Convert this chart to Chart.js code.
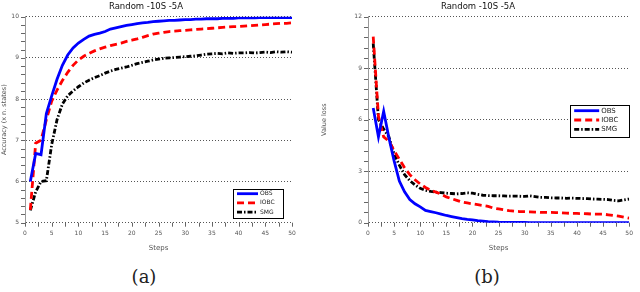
<!DOCTYPE html>
<html>
<head>
<meta charset="utf-8">
<script src="https://cdn.jsdelivr.net/npm/chart.js@4.4.1/dist/chart.umd.min.js"></script>
<style>
body{margin:0;background:#fff;width:640px;height:292px;position:relative;overflow:hidden}
.panel{position:absolute;top:0}
.cap{position:absolute;top:266px;width:60px;text-align:center;font-family:"DejaVu Serif","Liberation Serif",serif;font-size:18px;line-height:22px;color:#222}
</style>
</head>
<body>
<div class="panel" style="left:0"><canvas id="accChart" width="320" height="252"></canvas></div>
<div class="panel" style="left:320px"><canvas id="lossChart" width="320" height="252"></canvas></div>
<div class="cap" style="left:114px">(a)</div>
<div class="cap" style="left:457px">(b)</div>
<script>
const steps = [1,2,3,4,5,6,7,8,9,10,11,12,13,14,15,16,17,18,19,20,21,22,23,24,25,
  26,27,28,29,30,31,32,33,34,35,36,37,38,39,40,41,42,43,44,45,46,47,48,49,50];

const seriesNames = ["OBS", "IOBC", "SMG"];

// (a) accuracy
const accObs = [6.0,6.68,6.65,7.65,8.08,8.48,8.82,9.07,9.24,9.36,9.45,9.53,9.57,9.60,9.64,9.70,9.73,9.76,9.79,9.81,
  9.83,9.85,9.86,9.88,9.89,9.90,9.91,9.91,9.92,9.93,9.93,9.94,9.94,9.95,9.95,9.95,9.96,9.96,9.96,9.97,
  9.97,9.97,9.97,9.98,9.98,9.98,9.98,9.98,9.98,9.98];
const accIobc = [5.31,6.93,7.0,7.5,7.95,8.22,8.45,8.65,8.82,8.95,9.04,9.11,9.17,9.22,9.26,9.30,9.33,9.36,9.40,9.43,
  9.46,9.50,9.54,9.58,9.60,9.62,9.64,9.65,9.66,9.67,9.68,9.69,9.70,9.71,9.72,9.73,9.74,9.75,9.76,9.76,
  9.77,9.78,9.79,9.80,9.81,9.82,9.83,9.84,9.84,9.85];
const accSmg = [5.3,5.75,6.0,6.02,6.9,7.5,7.88,8.08,8.2,8.3,8.39,8.46,8.52,8.57,8.63,8.68,8.72,8.75,8.78,8.82,
  8.86,8.89,8.92,8.95,8.97,8.99,9.0,9.01,9.02,9.03,9.04,9.05,9.07,9.09,9.10,9.11,9.10,9.12,9.11,9.12,
  9.12,9.13,9.12,9.13,9.14,9.13,9.15,9.14,9.15,9.14];

// (b) value loss
const lossObs = [6.68,5.0,6.49,4.95,3.6,2.43,1.8,1.35,1.1,0.92,0.72,0.65,0.58,0.5,0.42,0.36,0.3,0.24,0.19,0.16,
  0.12,0.09,0.06,0.05,0.03,0.02,0.02,0.02,0.02,0.02,0.01,0.01,0.01,0.01,0.01,0.01,0.01,0.01,0.01,0.01,
  0,0,0,0,0,0,0,0,0,0];
const lossIobc = [10.84,6.2,5.0,4.75,4.2,3.7,3.2,2.8,2.5,2.25,2.05,1.9,1.78,1.66,1.5,1.4,1.3,1.2,1.15,1.1,
  1.05,1.0,0.95,0.85,0.8,0.75,0.7,0.67,0.65,0.64,0.63,0.62,0.6,0.6,0.6,0.59,0.58,0.56,0.54,0.54,
  0.53,0.52,0.5,0.5,0.5,0.46,0.42,0.38,0.32,0.26];
const lossSmg = [10.45,6.0,5.45,5.0,4.0,3.35,2.8,2.45,2.2,2.0,1.88,1.82,1.78,1.75,1.72,1.7,1.68,1.7,1.74,1.72,
  1.65,1.6,1.58,1.57,1.57,1.56,1.55,1.55,1.54,1.53,1.56,1.52,1.48,1.47,1.45,1.44,1.44,1.42,1.43,1.42,
  1.41,1.4,1.38,1.37,1.36,1.35,1.3,1.27,1.33,1.38];

const lineStyles = [
  {borderColor:"#0000ff", borderDash:[]},
  {borderColor:"#ff0000", borderDash:[7,4]},
  {borderColor:"#000000", borderDash:[5,2,1.5,2]}
];

// minor tick marks + boxed legend
const axisExtras = {
  id: "axisExtras",
  afterDraw(chart, args, opts){
    const ctx = chart.ctx;
    const xs = chart.scales.x, ys = chart.scales.y;
    const area = chart.chartArea;
    ctx.save();
    ctx.strokeStyle = "#666";
    ctx.lineWidth = 1;
    ctx.beginPath();
    for(let v = ys.min; v <= ys.max + 1e-6; v += opts.yMinor){
      const py = Math.round(ys.getPixelForValue(v)) + 0.5;
      ctx.moveTo(area.left - 4, py);
      ctx.lineTo(area.left, py);
    }
    for(let v = xs.min; v <= xs.max + 1e-6; v += 2.5){
      const px = Math.round(xs.getPixelForValue(v)) + 0.5;
      ctx.moveTo(px, area.bottom);
      ctx.lineTo(px, area.bottom + 4);
    }
    ctx.stroke();

    // legend
    const lg = opts.legend;
    const bx = area.right - lg.right - lg.w;
    const by = area.top + lg.top;
    ctx.fillStyle = "#fff";
    ctx.fillRect(bx, by, lg.w, lg.h);
    ctx.strokeStyle = "#000";
    ctx.lineWidth = 1;
    ctx.strokeRect(Math.round(bx) + 0.5, Math.round(by) + 0.5, lg.w, lg.h);
    ctx.font = lg.fontSize + "px 'DejaVu Sans'";
    ctx.textBaseline = "middle";
    ctx.fillStyle = "#222";
    chart.data.datasets.forEach((ds, i) => {
      const ry = by + lg.rowTop + i * lg.rowGap;
      ctx.save();
      ctx.strokeStyle = ds.borderColor;
      ctx.lineWidth = 2.8;
      ctx.setLineDash(ds.borderDash);
      ctx.beginPath();
      ctx.moveTo(bx + lg.lineX, ry);
      ctx.lineTo(bx + lg.lineX + lg.lineW, ry);
      ctx.stroke();
      ctx.restore();
      ctx.fillText(ds.label, bx + lg.lineX + lg.lineW + 2, ry);
    });
    ctx.restore();
  }
};

function makeChart(canvasId, series, yMin, yMax, yStep, yMinor, yLabel, yWidth, padRight, legend){
  return new Chart(document.getElementById(canvasId), {
    type: "line",
    data: {
      datasets: series.map((vals, i) => ({
        label: seriesNames[i],
        data: steps.map((s, k) => ({x: s, y: vals[k]})),
        borderColor: lineStyles[i].borderColor,
        borderDash: lineStyles[i].borderDash,
        borderWidth: 2.8,
        pointRadius: 0,
        tension: 0,
        fill: false
      }))
    },
    options: {
      responsive: false,
      animation: false,
      devicePixelRatio: 1,
      layout: {padding: {left: 0, right: padRight, top: 0, bottom: 0}},
      plugins: {
        legend: {display: false},
        tooltip: {enabled: false},
        title: {
          display: true,
          text: "Random -10S -5A",
          color: "#111",
          font: {family: "DejaVu Sans", size: 8.5, weight: "normal"},
          padding: {top: 2, bottom: 4.5}
        },
        axisExtras: {yMinor: yMinor, legend: legend}
      },
      scales: {
        x: {
          type: "linear",
          min: 0, max: 50,
          grid: {display: false, drawTicks: false},
          border: {display: false},
          ticks: {stepSize: 5, padding: 7, color: "#555", font: {family: "DejaVu Sans", size: 6}, maxRotation: 0},
          title: {display: true, text: "Steps", color: "#555", font: {family: "DejaVu Sans", size: 7}, padding: {top: 1, bottom: 0}},
          afterFit(scale){ scale.height = 29.3; }
        },
        y: {
          min: yMin, max: yMax,
          grid: {color: "#555", lineWidth: 1, drawTicks: false},
          border: {display: true, color: "#999", width: 1, dash: [1, 2]},
          ticks: {stepSize: yStep, padding: 6, color: "#555", font: {family: "DejaVu Sans", size: 6}},
          title: {display: true, text: yLabel, color: "#555", font: {family: "DejaVu Sans", size: 6.5}, padding: {top: 0, bottom: 0}},
          afterFit(scale){ scale.width = yWidth; }
        }
      }
    },
    plugins: [axisExtras]
  });
}

makeChart("accChart", [accObs, accIobc, accSmg], 5, 10, 1, 0.2,
  "Accuracy (x n. states)", 25, 28,
  {w: 50, h: 29, right: 9, top: 172.5, rowTop: 4.5, rowGap: 9.2, lineX: 4, lineW: 21, fontSize: 6});

makeChart("lossChart", [lossObs, lossIobc, lossSmg], 0, 12, 3, 0.6,
  "Value loss", 48, 4,
  {w: 59, h: 32, right: 0, top: 88, rowTop: 6, rowGap: 9.3, lineX: 4, lineW: 25, fontSize: 7});
</script>
</body>
</html>
